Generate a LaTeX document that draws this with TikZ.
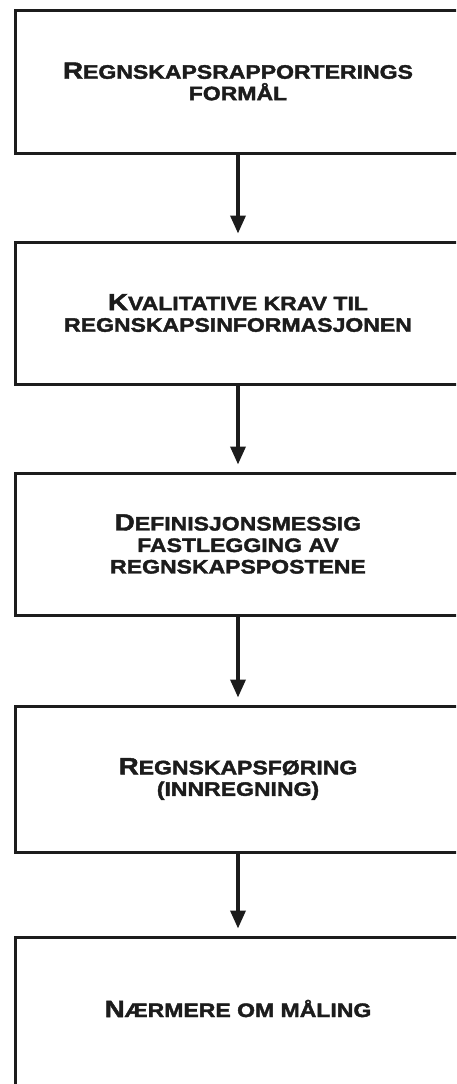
\documentclass[tikz,border=0pt]{standalone}
\usepackage{fontspec}
\newfontfamily\lbl{Liberation Sans}[FakeStretch=1.18,FakeBold=2]
\usetikzlibrary{arrows.meta}
\definecolor{ink}{HTML}{1C1C1C}
\newcommand{\Ini}[1]{{\fontsize{23.5}{21.5}\selectfont #1}}
\begin{document}
\begin{tikzpicture}[x=1pt,y=1pt,
  box/.style={draw=ink,line width=3pt,rectangle,minimum width=446pt,inner sep=0pt,
    text=ink,align=center,font=\lbl\bfseries\fontsize{19.5}{21.5}\selectfont},
  arr/.style={draw=ink,line width=3.5pt,-{Triangle[length=18pt,width=15pt]}}]
\useasboundingbox (0,0) rectangle (456,-1084);
\clip (0,0) rectangle (456,-1084);
\node[box,minimum height=143pt] (b1) at (238,-81.5) {\Ini{R}EGNSKAPSRAPPORTERINGS\\FORMÅL};
\node[box,minimum height=142pt] (b2) at (238,-313) {\Ini{K}VALITATIVE KRAV TIL\\REGNSKAPSINFORMASJONEN};
\node[box,minimum height=142pt] (b3) at (238,-544) {\Ini{D}EFINISJONSMESSIG\\FASTLEGGING AV\\REGNSKAPSPOSTENE};
\node[box,minimum height=146pt] (b4) at (238,-779) {\Ini{R}EGNSKAPSFØRING\\(INNREGNING)};
\node[box,minimum height=180pt] (b5) at (238,-1027) {};
\node[box,draw=none,minimum height=0pt] (b5t) at ([yshift=-73pt]b5.north) {\Ini{N}ÆRMERE OM MÅLING};
\draw[arr] (b1.south) -- ([yshift=7pt]b2.north);
\draw[arr] (b2.south) -- ([yshift=7pt]b3.north);
\draw[arr] (b3.south) -- ([yshift=7pt]b4.north);
\draw[arr] (b4.south) -- ([yshift=7pt]b5.north);
\end{tikzpicture}
\end{document}
